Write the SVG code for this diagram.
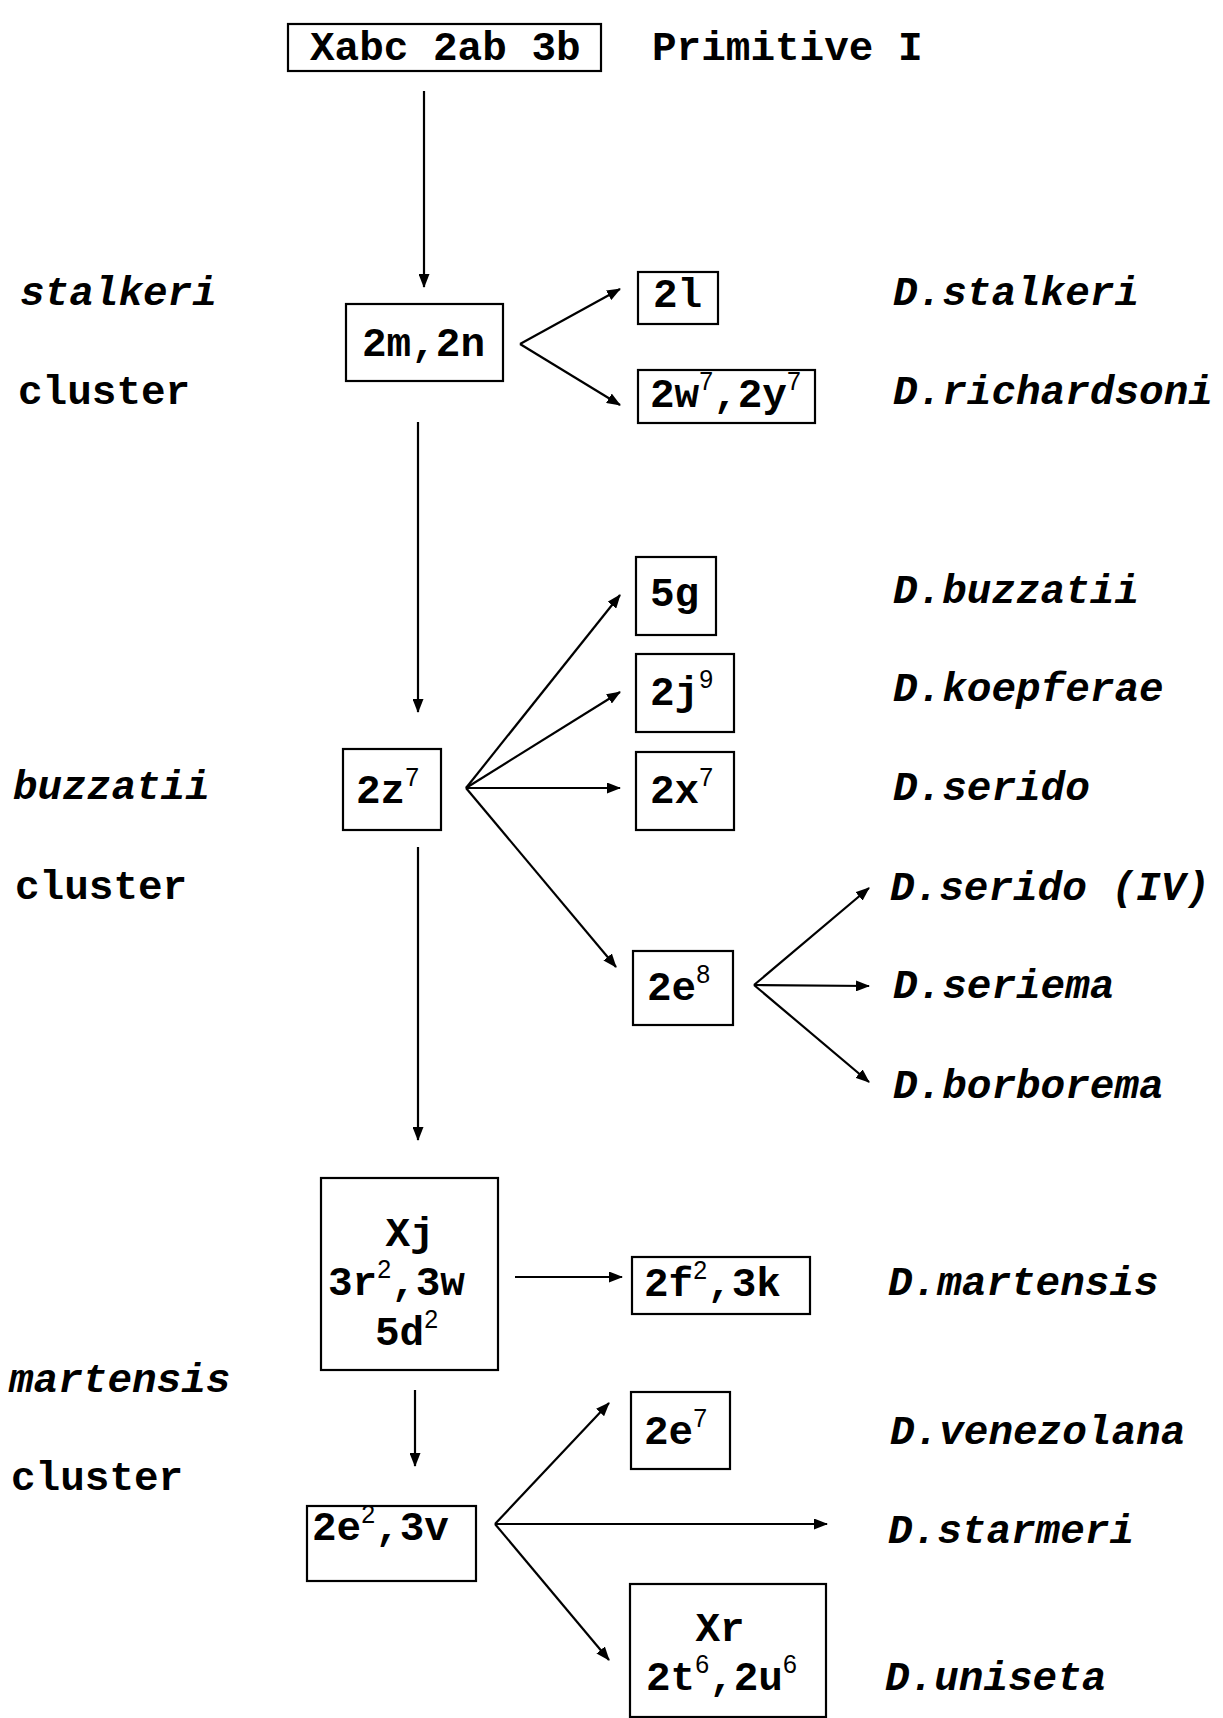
<svg xmlns="http://www.w3.org/2000/svg" width="1223" height="1718" viewBox="0 0 1223 1718">
<style>
text{font-family:"Liberation Mono","Courier New",monospace;font-weight:bold;font-size:41px;fill:#000}
.it{font-style:italic}
.sup{font-size:25px;font-family:"Liberation Sans",Arial,sans-serif;font-weight:normal}
.box{fill:#fff;stroke:#000;stroke-width:2.2}
.c line{stroke:#000;stroke-width:2.2;marker-end:url(#ah)}
.mid{text-anchor:middle}
</style>
<defs>
<marker id="ah" markerWidth="14" markerHeight="11" refX="13" refY="5.5" orient="auto" markerUnits="userSpaceOnUse">
<path d="M0,0 L14,5.5 L0,11 Z" fill="#000"/>
</marker>
</defs>
<rect width="1223" height="1718" fill="#fff"/>

<g id="labels">
<text x="652" y="60">Primitive I</text>
<text class="it" x="20" y="305">stalkeri</text>
<text x="18" y="404">cluster</text>
<text class="it" x="13" y="799">buzzatii</text>
<text x="15" y="899">cluster</text>
<text class="it" x="9" y="1392">martensis</text>
<text x="11" y="1490">cluster</text>
<text class="it" x="893" y="305">D.stalkeri</text>
<text class="it" x="893" y="404">D.richardsoni</text>
<text class="it" x="893" y="603">D.buzzatii</text>
<text class="it" x="893" y="701">D.koepferae</text>
<text class="it" x="893" y="800">D.serido</text>
<text class="it" x="890" y="900">D.serido (IV)</text>
<text class="it" x="893" y="998">D.seriema</text>
<text class="it" x="893" y="1098">D.borborema</text>
<text class="it" x="888" y="1295">D.martensis</text>
<text class="it" x="890" y="1444">D.venezolana</text>
<text class="it" x="888" y="1543">D.starmeri</text>
<text class="it" x="885" y="1690">D.uniseta</text>
</g>

<g id="n-primitive"><rect class="box" x="288" y="24" width="313" height="47"/><text x="310" y="60">Xabc 2ab 3b</text></g>
<g id="n-2m2n"><rect class="box" x="346" y="304" width="157" height="77"/><text x="362" y="356">2m,2n</text></g>
<g id="n-2l"><rect class="box" x="638" y="272" width="80" height="52"/><text x="653" y="307">2l</text></g>
<g id="n-2w2y"><rect class="box" x="638" y="370" width="177" height="53"/><text x="650" y="407">2w<tspan class="sup" dy="-17">7</tspan><tspan dy="17">,2y</tspan><tspan class="sup" dy="-17">7</tspan></text></g>
<g id="n-2z"><rect class="box" x="343" y="749" width="98" height="81"/><text x="356" y="803">2z<tspan class="sup" dy="-17">7</tspan></text></g>
<g id="n-5g"><rect class="box" x="636" y="557" width="80" height="78"/><text x="650" y="606">5g</text></g>
<g id="n-2j"><rect class="box" x="636" y="654" width="98" height="78"/><text x="650" y="705">2j<tspan class="sup" dy="-17">9</tspan></text></g>
<g id="n-2x"><rect class="box" x="636" y="752" width="98" height="78"/><text x="650" y="803">2x<tspan class="sup" dy="-17">7</tspan></text></g>
<g id="n-2e8"><rect class="box" x="633" y="951" width="100" height="74"/><text x="647" y="1000">2e<tspan class="sup" dy="-17">8</tspan></text></g>
<g id="n-xj"><rect class="box" x="321" y="1178" width="177" height="192"/>
<text class="mid" x="410" y="1246">Xj</text>
<text x="328" y="1295">3r<tspan class="sup" dy="-17">2</tspan><tspan dy="17">,3w</tspan></text>
<text x="375" y="1345">5d<tspan class="sup" dy="-17">2</tspan></text></g>
<g id="n-2f3k"><rect class="box" x="632" y="1257" width="178" height="57"/><text x="644" y="1296">2f<tspan class="sup" dy="-17">2</tspan><tspan dy="17">,3k</tspan></text></g>
<g id="n-2e3v"><rect class="box" x="307" y="1506" width="169" height="75"/><text x="312" y="1540">2e<tspan class="sup" dy="-17">2</tspan><tspan dy="17">,3v</tspan></text></g>
<g id="n-2e7"><rect class="box" x="631" y="1392" width="99" height="77"/><text x="644" y="1444">2e<tspan class="sup" dy="-17">7</tspan></text></g>
<g id="n-xr"><rect class="box" x="630" y="1584" width="196" height="133"/>
<text class="mid" x="720" y="1641">Xr</text>
<text x="646" y="1690">2t<tspan class="sup" dy="-17">6</tspan><tspan dy="17">,2u</tspan><tspan class="sup" dy="-17">6</tspan></text></g>

<g id="connectors" class="c">
<line x1="424" y1="91" x2="424" y2="287"/>
<line x1="520" y1="344" x2="620" y2="289"/>
<line x1="520" y1="344" x2="620" y2="405"/>
<line x1="418" y1="422" x2="418" y2="712"/>
<line x1="466" y1="788" x2="620" y2="595"/>
<line x1="466" y1="788" x2="620" y2="692"/>
<line x1="466" y1="788" x2="620" y2="788"/>
<line x1="466" y1="788" x2="616" y2="967"/>
<line x1="754" y1="985" x2="869" y2="888"/>
<line x1="754" y1="985" x2="869" y2="986"/>
<line x1="754" y1="985" x2="869" y2="1082"/>
<line x1="418" y1="847" x2="418" y2="1140"/>
<line x1="515" y1="1277" x2="622" y2="1277"/>
<line x1="415" y1="1390" x2="415" y2="1466"/>
<line x1="495" y1="1524" x2="609" y2="1403"/>
<line x1="495" y1="1524" x2="827" y2="1524"/>
<line x1="495" y1="1524" x2="609" y2="1660"/>
</g>
</svg>
